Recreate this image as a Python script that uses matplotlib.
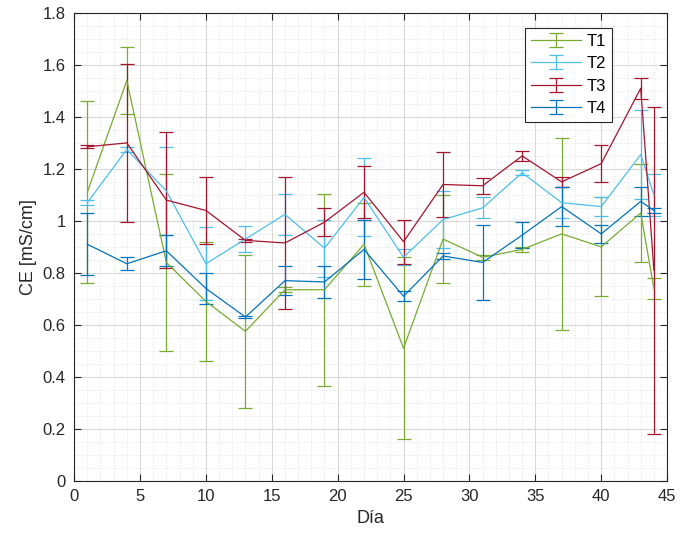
import matplotlib
matplotlib.use("Agg")
import matplotlib.pyplot as plt
from matplotlib.ticker import MultipleLocator
from matplotlib.legend_handler import HandlerErrorbar

plt.rcParams['font.family'] = ['Liberation Sans', 'DejaVu Sans']

dia = [1, 4, 7, 10, 13, 16, 19, 22, 25, 28, 31, 34, 37, 40, 43, 44]

t1 = [1.11, 1.54, 0.84, 0.69, 0.575, 0.735, 0.735, 0.91, 0.51, 0.93, 0.86, 0.89, 0.95, 0.90, 1.03, 0.74]
t1_err = [0.35, 0.13, 0.34, 0.23, 0.295, 0.01, 0.37, 0.16, 0.35, 0.17, 0.01, 0.01, 0.37, 0.19, 0.19, 0.04]

t2 = [1.07, 1.275, 1.115, 0.835, 0.93, 1.025, 0.895, 1.09, 0.86, 1.005, 1.05, 1.185, 1.07, 1.055, 1.255, 1.10]
t2_err = [0.01, 0.01, 0.17, 0.14, 0.05, 0.08, 0.11, 0.15, 0.03, 0.11, 0.04, 0.01, 0.06, 0.035, 0.17, 0.08]

t3 = [1.285, 1.30, 1.08, 1.04, 0.925, 0.915, 0.995, 1.11, 0.92, 1.14, 1.135, 1.25, 1.15, 1.22, 1.51, 0.81]
t3_err = [0.005, 0.305, 0.26, 0.13, 0.005, 0.255, 0.055, 0.10, 0.085, 0.125, 0.03, 0.02, 0.02, 0.07, 0.04, 0.63]

t4 = [0.91, 0.835, 0.885, 0.74, 0.63, 0.77, 0.765, 0.89, 0.71, 0.865, 0.84, 0.945, 1.055, 0.95, 1.075, 1.04]
t4_err = [0.12, 0.025, 0.06, 0.06, 0.003, 0.055, 0.06, 0.115, 0.02, 0.012, 0.145, 0.05, 0.075, 0.035, 0.055, 0.01]

series = [
    ('T1', t1, t1_err, (0.47, 0.67, 0.19)),
    ('T2', t2, t2_err, (0.30, 0.75, 0.93)),
    ('T3', t3, t3_err, (0.64, 0.08, 0.18)),
    ('T4', t4, t4_err, (0.00, 0.45, 0.74)),
]

fig = plt.figure(figsize=(6.8, 5.39), dpi=100)
ax = fig.add_axes([0.109, 0.108, 0.872, 0.868])

for name, y, e, c in series:
    ax.errorbar(dia, y, yerr=e, color=c, lw=0.9, elinewidth=0.9,
                capsize=5, capthick=0.9, label=name)

ax.set_xlim(0, 45)
ax.set_ylim(0, 1.8)
ax.xaxis.set_major_locator(MultipleLocator(5))
ax.xaxis.set_minor_locator(MultipleLocator(1))
ax.yaxis.set_minor_locator(MultipleLocator(0.05))
ax.set_yticks([i * 0.2 for i in range(10)])
ax.set_yticklabels(['0', '0.2', '0.4', '0.6', '0.8', '1', '1.2', '1.4', '1.6', '1.8'])

ax.grid(which='major', color='#d9d9d9', lw=0.8)
ax.grid(which='minor', color='#dedede', lw=0.6, ls=':')
ax.set_axisbelow(True)
ax.tick_params(which='major', direction='in', top=True, right=True,
               length=5, labelsize=12, colors='#262626', pad=6)
ax.tick_params(which='minor', length=0)
for s in ax.spines.values():
    s.set_color('#262626')
    s.set_linewidth(0.8)

ax.set_xlabel('Día', fontsize=13, color='#262626')
ax.set_ylabel('CE [mS/cm]', fontsize=13, color='#262626')

handles, labels = ax.get_legend_handles_labels()
leg = ax.legend(handles, labels, loc='upper right', bbox_to_anchor=(0.907, 0.968),
                fontsize=12, fancybox=False, edgecolor='#262626', framealpha=1,
                handlelength=3.0, borderpad=0.35, labelspacing=0.45,
                handletextpad=0.35, borderaxespad=0,
                handler_map={type(handles[0]): HandlerErrorbar(xerr_size=0.42)})
leg.get_frame().set_linewidth(0.8)

fig.savefig('out.png', dpi=100)
